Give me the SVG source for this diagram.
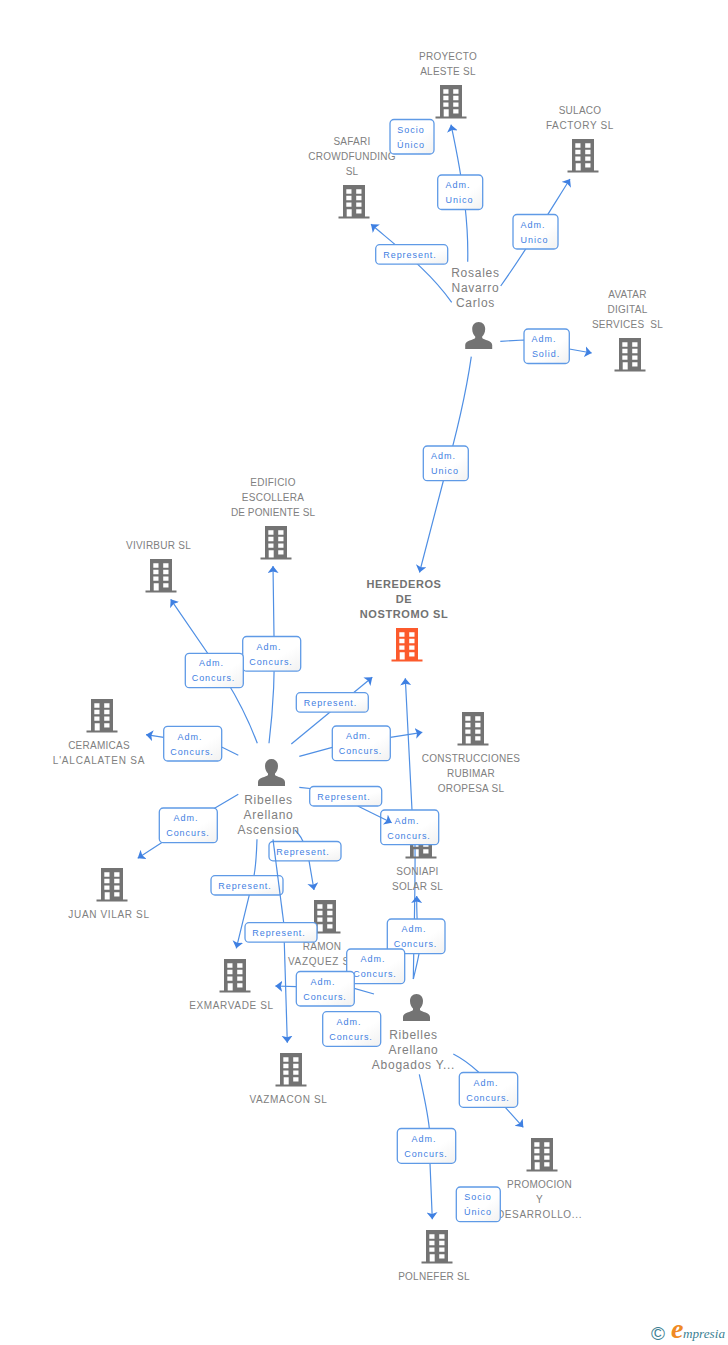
<svg xmlns="http://www.w3.org/2000/svg" width="728" height="1345" viewBox="0 0 728 1345">
<style>
text{font-family:"Liberation Sans",Arial,sans-serif}
.n{font-size:10px;fill:#808080;text-anchor:middle;letter-spacing:.25px}
.w{letter-spacing:.65px}
.h{font-size:11px;font-weight:bold;fill:#727272;letter-spacing:.6px}
.p{font-size:12px;fill:#808080;text-anchor:middle;letter-spacing:.75px}
.l{font-size:9px;fill:#3f80e2;text-anchor:middle;letter-spacing:.95px}
.b{fill:url(#bx);stroke:#5f9ae6;stroke-width:1.3}
.c path{fill:none;stroke:#4f8fe4;stroke-width:1.2;marker-end:url(#ah)}
.c path.x{marker-end:none}
.i{color:#737373;fill:currentColor}
.o{color:#fc5a2c;fill:currentColor}
</style>
<defs>
<linearGradient id="bx" x1="0" y1="0" x2="1" y2="1"><stop offset="0" stop-color="#fff"/><stop offset=".6" stop-color="#fff"/><stop offset="1" stop-color="#f1f1f1"/></linearGradient>
<marker id="ah" markerUnits="userSpaceOnUse" markerWidth="8" markerHeight="12" refX="7" refY="5.5" orient="auto"><path d="M7,5.5L0,0L1.6,5.5L0,11Z" fill="#3f80e2"/></marker>
<path id="bld" fill-rule="evenodd" d="M-11,0H11V31.5H15.5V33.5H-15.5V31.5H-11ZM-7.7,4.3V8.7H-2.5V4.3ZM2.2,4.3V8.7H7.5V4.3ZM-7.7,10.8V15.2H-2.5V10.8ZM2.2,10.8V15.2H7.5V10.8ZM-7.7,17.4V21.8H-2.5V17.4ZM2.2,17.4V21.8H7.5V17.4ZM2.2,24.2V28.6H7.5V24.2ZM-7.3,24.2V31.5H-2.3V24.2Z"/>
<path id="per" d="M0,0C4,0 6.5,3 6.5,7C6.5,10.5 5,13 3.5,14.5V16C5,18 13.5,18.5 13.5,23V27H-13.5V23C-13.5,18.5 -5,18 -3.5,16V14.5C-5,13 -6.5,10.5 -6.5,7C-6.5,3 -4,0 0,0Z"/>
</defs>
<rect width="728" height="1345" fill="#fff"/>
<g id="connectors" class="c">
<path d="M467.7,261.7C468.5,228 465,190 451,124.7"/>
<path d="M500.7,286C525,252 548,214 570,179"/>
<path d="M451.7,302.3C430,272 405,253 371,224.3"/>
<path d="M500.3,341.3L524,340L569.3,349L591.7,353"/>
<path d="M471.3,356.7C465,400 455,440 443.3,481L419.5,572.5"/>
<path d="M269,743.3C273,710 275.5,680 274,636.3L273,566"/>
<path d="M257.3,743.3C247,716 236,696 226,680L170.7,599.3"/>
<path d="M291.3,744L372.3,677.3"/>
<path d="M299.3,756.3L332.3,747.3L390.3,737.3L422.3,732.3"/>
<path d="M238.3,755.3L221.7,747L163.7,737.3L146,734.7"/>
<path class="x" d="M299.3,787.3L315,789"/>
<path d="M238.3,794.3L215,808L137.7,858.3"/>
<path d="M295,830C300,835 303,840 304,845L309,860.7L314,890"/>
<path d="M257,839.3C256.5,855 256,865 254,875.7L236.3,948.3"/>
<path d="M283.7,922.7L287.3,1042.7"/>
<path d="M413.3,979C414,935 415.5,880 415,845L412,810L405.3,678.3"/>
<path d="M413.3,979C416,968 418,960 419,953.7C418,935 416.5,920 416.7,896"/>
<path d="M374,994L354.3,988.3L296.3,986.7L275.3,986"/>
<path d="M419.3,1074.3C425,1100 428,1115 429.3,1128.3L430,1163.3L432.3,1219.3"/>
<path d="M453.3,1054C465,1060 472,1066 478.7,1072.3L505.3,1107.3L523.3,1127.3"/>
</g>
<g id="n-proyecto"><use href="#bld" x="451" y="85" class="i"/><text class="n" x="448" y="60">PROYECTO</text><text class="n" x="448" y="75">ALESTE SL</text></g>
<g id="n-sulaco"><use href="#bld" x="583" y="139" class="i"/><text class="n" x="580" y="114">SULACO</text><text class="n w" x="580" y="129">FACTORY SL</text></g>
<g id="n-safari"><use href="#bld" x="354" y="185" class="i"/><text class="n" x="352" y="145">SAFARI</text><text class="n" x="352" y="160">CROWDFUNDING</text><text class="n" x="352" y="175">SL</text></g>
<g id="n-avatar"><use href="#bld" x="630" y="338" class="i"/><text class="n" x="627.5" y="298">AVATAR</text><text class="n" x="627.5" y="313">DIGITAL</text><text class="n" x="627.5" y="328" xml:space="preserve">SERVICES  SL</text></g>
<g id="n-rosales"><use href="#per" x="478.7" y="322" class="i"/><text class="p" x="475.5" y="277">Rosales</text><text class="p" x="475.5" y="292">Navarro</text><text class="p" x="475.5" y="307">Carlos</text></g>
<g id="n-edificio"><use href="#bld" x="276" y="526" class="i"/><text class="n" x="273" y="486">EDIFICIO</text><text class="n" x="273" y="501">ESCOLLERA</text><text class="n" x="273" y="516" style="letter-spacing:.1px">DE PONIENTE SL</text></g>
<g id="n-vivirbur"><use href="#bld" x="161" y="559" class="i"/><text class="n" x="158.5" y="549">VIVIRBUR SL</text></g>
<g id="n-herederos"><use href="#bld" x="407" y="628" class="o"/><text class="n h" x="404" y="588">HEREDEROS</text><text class="n h" x="404" y="603">DE</text><text class="n h" x="404" y="618">NOSTROMO SL</text></g>
<g id="n-ceramicas"><use href="#bld" x="102" y="699" class="i"/><text class="n" x="99" y="749">CERAMICAS</text><text class="n" x="99" y="764" style="letter-spacing:.8px">L'ALCALATEN SA</text></g>
<g id="n-construcciones"><use href="#bld" x="473" y="712" class="i"/><text class="n" x="471" y="762">CONSTRUCCIONES</text><text class="n" x="471" y="777">RUBIMAR</text><text class="n" x="471" y="792">OROPESA SL</text></g>
<g id="n-ascension"><use href="#per" x="271.5" y="759" class="i"/><text class="p" x="268.5" y="804">Ribelles</text><text class="p" x="268.5" y="819">Arellano</text><text class="p" x="268.5" y="834">Ascension</text></g>
<g id="n-juan"><use href="#bld" x="112" y="868" class="i"/><text class="n w" x="109" y="918">JUAN VILAR SL</text></g>
<g id="n-soniapi"><use href="#bld" x="421" y="825" class="i"/><text class="n" x="417.5" y="875">SONIAPI</text><text class="n" x="417.5" y="890">SOLAR SL</text></g>
<g id="n-ramon"><use href="#bld" x="325" y="900" class="i"/><text class="n" x="322" y="950">RAMON</text><text class="n w" x="322" y="965">VAZQUEZ SL</text></g>
<g id="n-exmarvade"><use href="#bld" x="235" y="959" class="i"/><text class="n w" x="231.5" y="1009">EXMARVADE SL</text></g>
<g id="n-vazmacon"><use href="#bld" x="291" y="1053" class="i"/><text class="n w" x="288.5" y="1103">VAZMACON SL</text></g>
<g id="n-abogados"><use href="#per" x="416.5" y="994" class="i"/><text class="p" x="413.5" y="1039">Ribelles</text><text class="p" x="413.5" y="1054">Arellano</text><text class="p" x="413.5" y="1069">Abogados Y...</text></g>
<g id="n-promocion"><use href="#bld" x="542" y="1138" class="i"/><text class="n" x="539.5" y="1188">PROMOCION</text><text class="n" x="539.5" y="1203">Y</text><text class="n w" x="539.5" y="1218">DESARROLLO...</text></g>
<g id="n-polnefer"><use href="#bld" x="437" y="1230" class="i"/><text class="n" x="434" y="1280">POLNEFER SL</text></g>
<g id="edge-labels">
<g><rect class="b" x="390" y="119.5" width="44" height="34.5" rx="4"/><text class="l" x="411" y="133">Socio</text><text class="l" x="411" y="148">Único</text></g>
<g><rect class="b" x="437.7" y="175" width="45" height="34.5" rx="4"/><text class="l" x="458" y="188">Adm.</text><text class="l" x="459.5" y="203">Unico</text></g>
<g><rect class="b" x="513" y="214.5" width="45" height="34.5" rx="4"/><text class="l" x="533" y="228">Adm.</text><text class="l" x="534.5" y="243">Unico</text></g>
<g><rect class="b" x="375.7" y="244.7" width="72" height="19.5" rx="4"/><text class="l" x="410" y="258">Represent.</text></g>
<g><rect class="b" x="524" y="329" width="45.3" height="34.5" rx="4"/><text class="l" x="544" y="342">Adm.</text><text class="l" x="546" y="357">Solid.</text></g>
<g><rect class="b" x="423.3" y="446" width="45" height="34.7" rx="4"/><text class="l" x="443.5" y="459">Adm.</text><text class="l" x="445" y="474">Unico</text></g>
<g><rect class="b" x="242.7" y="636.5" width="58" height="34.7" rx="4"/><text class="l" x="269" y="650">Adm.</text><text class="l" x="271" y="665">Concurs.</text></g>
<g><rect class="b" x="185.3" y="653.3" width="58" height="34.4" rx="4"/><text class="l" x="211.5" y="666">Adm.</text><text class="l" x="213.5" y="681">Concurs.</text></g>
<g><rect class="b" x="296.3" y="692.7" width="72" height="19.5" rx="4"/><text class="l" x="330.5" y="706">Represent.</text></g>
<g><rect class="b" x="332.3" y="726" width="58" height="34.7" rx="4"/><text class="l" x="358.5" y="739">Adm.</text><text class="l" x="360.5" y="754">Concurs.</text></g>
<g><rect class="b" x="163.7" y="726.3" width="58" height="34.7" rx="4"/><text class="l" x="190" y="740">Adm.</text><text class="l" x="192" y="755">Concurs.</text></g>
<g><rect class="b" x="380.7" y="810" width="58" height="34.7" rx="4"/><text class="l" x="407" y="824">Adm.</text><text class="l" x="409" y="839">Concurs.</text></g>
<g><rect class="b" x="159.3" y="808" width="58" height="34.7" rx="4"/><text class="l" x="186" y="821">Adm.</text><text class="l" x="188" y="836">Concurs.</text></g>
<g><rect class="b" x="269" y="841.5" width="72" height="19.3" rx="4"/><text class="l" x="303" y="855">Represent.</text></g>
<g><rect class="b" x="211" y="875.7" width="72" height="19.3" rx="4"/><text class="l" x="245" y="889">Represent.</text></g>
<g><rect class="b" x="387.3" y="919" width="57.7" height="34.7" rx="4"/><text class="l" x="414" y="932">Adm.</text><text class="l" x="415.5" y="947">Concurs.</text></g>
<g><rect class="b" x="346.7" y="949" width="58" height="34.7" rx="4"/><text class="l" x="373" y="962">Adm.</text><text class="l" x="375" y="977">Concurs.</text></g>
<g><rect class="b" x="296.3" y="971.5" width="58" height="34.5" rx="4"/><text class="l" x="323" y="985">Adm.</text><text class="l" x="325" y="1000">Concurs.</text></g>
<g><rect class="b" x="322.7" y="1011.7" width="58" height="34.6" rx="4"/><text class="l" x="349" y="1025">Adm.</text><text class="l" x="351" y="1040">Concurs.</text></g>
<g><rect class="b" x="459.3" y="1072.5" width="58.4" height="34.8" rx="4"/><text class="l" x="486" y="1086">Adm.</text><text class="l" x="488" y="1101">Concurs.</text></g>
<g><rect class="b" x="397.3" y="1128.5" width="58.4" height="34.8" rx="4"/><text class="l" x="424" y="1142">Adm.</text><text class="l" x="426" y="1157">Concurs.</text></g>
<g><rect class="b" x="456.3" y="1187" width="44" height="34.7" rx="4"/><text class="l" x="478" y="1200">Socio</text><text class="l" x="478" y="1215">Único</text></g>
</g>
<g id="connectors-over" class="c">
<path class="x" d="M273,839.3L283.7,922.7"/>
<path d="M357.7,806L391.7,822.7"/>
</g>
<g id="edge-labels-over">
<g><rect class="b" x="309.7" y="786.5" width="72" height="19.5" rx="4"/><text class="l" x="344" y="800">Represent.</text></g>
<g><rect class="b" x="245" y="922.7" width="72" height="19.5" rx="4"/><text class="l" x="279" y="936">Represent.</text></g>
</g>
<g id="logo">
<text x="658" y="1340" font-size="19" text-anchor="middle" fill="#3c7f93">©</text>
<text x="671" y="1338" font-size="28" font-weight="bold" font-style="italic" fill="#f08a24" style="font-family:'Liberation Serif',serif">e</text>
<text x="683" y="1338" font-size="13.2" font-style="italic" fill="#3c7f93" style="font-family:'Liberation Serif',serif">mpresia</text>
</g>
</svg>
